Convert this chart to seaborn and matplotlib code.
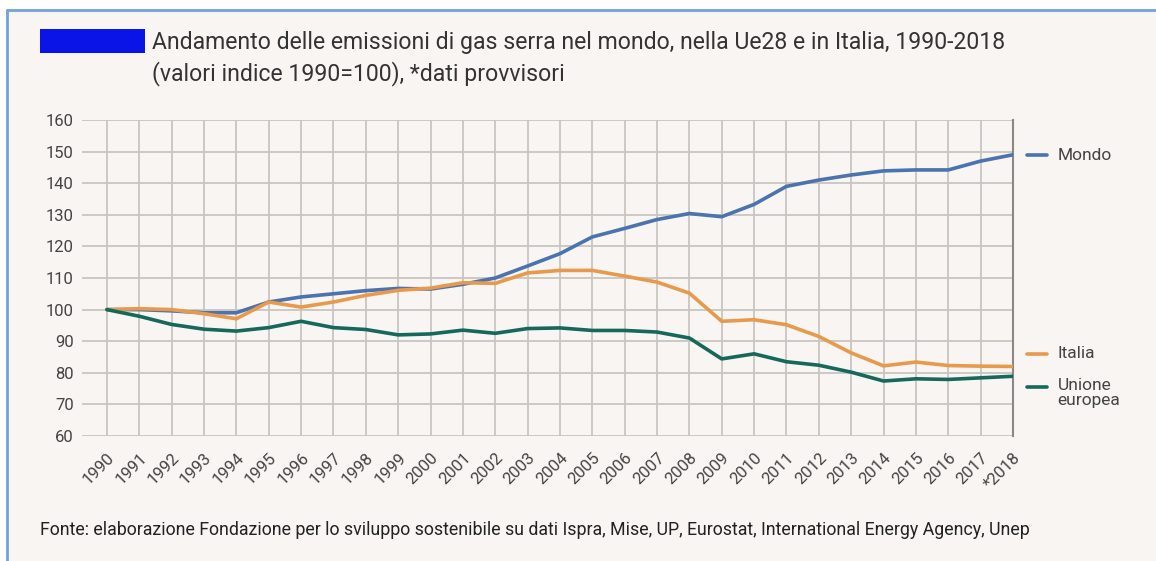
import pandas as pd
import seaborn as sns
import matplotlib.pyplot as plt
from matplotlib.patches import Rectangle
from matplotlib.lines import Line2D

years = list(range(1990, 2019))
year_labels = [str(y) for y in years[:-1]] + ['*2018']

mondo = [100, 100, 99.6, 99, 99, 102.4, 104, 105, 106, 106.7,
         106.5, 108, 110, 113.8, 117.7, 123, 125.7, 128.5, 130.4, 129.4,
         133.3, 139, 141, 142.6, 143.9, 144.2, 144.2, 147, 149]
italia = [100, 100.3, 100, 98.7, 97.1, 102.4, 100.8, 102.4, 104.5, 106.1,
          106.8, 108.5, 108.3, 111.6, 112.4, 112.4, 110.6, 108.7, 105.2, 96.3,
          96.8, 95.2, 91.5, 86.3, 82.2, 83.4, 82.3, 82.1, 82]
ue = [100, 97.9, 95.3, 93.8, 93.2, 94.3, 96.3, 94.3, 93.7, 92,
      92.3, 93.5, 92.5, 94, 94.2, 93.4, 93.4, 92.9, 91, 84.4,
      86, 83.5, 82.4, 80.2, 77.4, 78.1, 77.9, 78.4, 78.9]

series = ['Mondo', 'Italia', 'Unione europea']
colors = {'Mondo': '#4a73b0', 'Italia': '#e89a4c', 'Unione europea': '#15695a'}

df = pd.DataFrame({
    'anno': years * 3,
    'valore': mondo + italia + ue,
    'serie': ['Mondo'] * len(years) + ['Italia'] * len(years) + ['Unione europea'] * len(years),
})

sns.set_style('white')
plt.rcParams['font.family'] = ['Roboto', 'DejaVu Sans']

bg = '#f8f5f2'
fig = plt.figure(figsize=(11.56, 5.61), dpi=100, facecolor='white')
fig.patches.append(Rectangle((7 / 1156, 0), 1, 1 - 10 / 561, transform=fig.transFigure,
                             facecolor=bg, edgecolor='none', zorder=-2))
fig.lines.append(Line2D([7 / 1156, 7 / 1156], [0, 1 - 10 / 561], transform=fig.transFigure,
                        color='#6fa3dd', lw=2))
fig.lines.append(Line2D([7 / 1156, 1], [1 - 10 / 561, 1 - 10 / 561], transform=fig.transFigure,
                        color='#6fa3dd', lw=2))

ax = fig.add_axes([82 / 1156, 1 - 436 / 561, (1013 - 82) / 1156, 316 / 561])
ax.set_facecolor(bg)

sns.lineplot(data=df, x='anno', y='valore', hue='serie', hue_order=series,
             palette=colors, linewidth=2.6, legend=False, ax=ax, zorder=3)

ax.set_xlim(1990 - 0.77, 2018)
ax.set_ylim(60, 160)
ax.set_yticks(range(60, 161, 10))
ax.set_xticks(years)
ax.set_xticklabels(year_labels, rotation=45, ha='right', rotation_mode='anchor',
                   fontsize=12, color='#444444')
ax.tick_params(axis='y', length=0, labelsize=12, labelcolor='#444444', pad=6)
ax.tick_params(axis='x', length=7, width=1.2, color='#c9c5c1', pad=3)
ax.grid(True, color='#c9c5c1', linewidth=1.3)
ax.set_axisbelow(True)
for s in ['top', 'left', 'bottom']:
    ax.spines[s].set_visible(False)
ax.spines['right'].set_color('#8a8784')
ax.spines['right'].set_linewidth(1.5)
ax.set_xlabel('')
ax.set_ylabel('')

# etichette delle serie a destra
labels = [('Mondo', 0.889, 0.889), ('Italia', 0.259, 0.262),
          ('Unione europea', 0.155, 0.136)]
for name, yd, yt in labels:
    ax.add_line(Line2D([1.015, 1.037], [yd, yd], transform=ax.transAxes,
                       color=colors[name], lw=2.6, clip_on=False))
    ax.text(1.048, yt, name.replace(' ', '\n'), transform=ax.transAxes,
            va='center', ha='left', fontsize=12.5, color='#444444', linespacing=1.0)

# titolo
fig.patches.append(Rectangle((40 / 1156, 1 - 53 / 561), 105 / 1156, 24 / 561,
                             transform=fig.transFigure, facecolor='#0a14e6', edgecolor='none'))
fig.text(152 / 1156, 1 - 42 / 561,
         'Andamento delle emissioni di gas serra nel mondo, nella Ue28 e in Italia, 1990-2018',
         fontsize=16.6, color='#333333', va='center', ha='left')
fig.text(152 / 1156, 1 - 74 / 561, '(valori indice 1990=100), *dati provvisori',
         fontsize=16.6, color='#333333', va='center', ha='left')

fig.text(40 / 1156, 1 - 530 / 561,
         'Fonte: elaborazione Fondazione per lo sviluppo sostenibile su dati Ispra, Mise, UP, '
         'Eurostat, International Energy Agency, Unep',
         fontsize=12.8, color='#222222', va='center', ha='left')

fig.savefig('out.png', dpi=100, facecolor=fig.get_facecolor())
